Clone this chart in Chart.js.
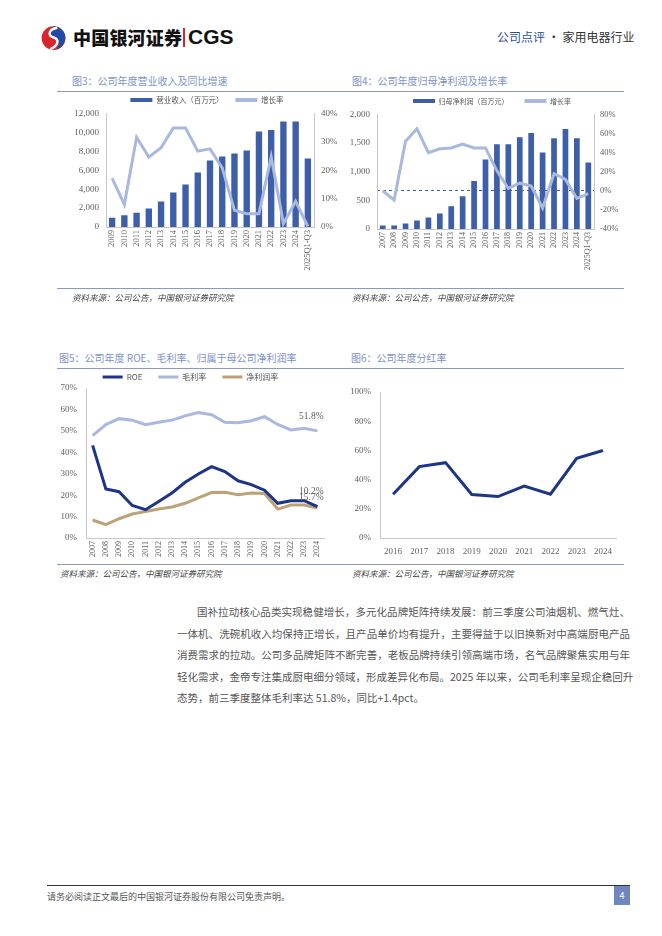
<!DOCTYPE html>
<html>
<head>
<meta charset="utf-8">
<script src="https://cdn.jsdelivr.net/npm/chart.js@4.4.1/dist/chart.umd.min.js"></script>
<style>
body { margin: 0; width: 662px; height: 936px; background: #fff; position: relative; overflow: hidden; font-family: 'Noto Sans CJK SC', sans-serif; }
.title { position: absolute; font-size: 10px; line-height: 12px; color: #7d92c6; white-space: nowrap; }
.rule { position: absolute; height: 1px; background: #8a9ab8; }
.src { position: absolute; font-size: 8.5px; line-height: 12px; color: #444; font-style: italic; white-space: nowrap; }
canvas { position: absolute; }
.body { position: absolute; left: 177px; top: 601px; width: 453px; font-size: 10.5px; line-height: 21.5px; color: #555; }
.body div { text-align: justify; text-align-last: justify; white-space: nowrap; }
.body div.last { text-align-last: left; }
</style>
</head>
<body>

<!-- header -->
<svg style="position:absolute;left:40px;top:24px" width="27" height="27" viewBox="0 0 100 100">
  <circle cx="50" cy="52" r="44" fill="#d9252b"/>
  <path d="M50 8 A44 44 0 0 1 94 52 A44 44 0 0 1 60 95 C80 70 70 50 45 48 C30 46 28 30 50 8Z" fill="#1f4aa8"/>
  <path d="M64 14 C30 20 28 44 50 50 C72 56 70 80 38 93" stroke="#fff" stroke-width="9" fill="none"/>
</svg>
<div style="position:absolute;left:73px;top:25px;font-size:18px;line-height:24px;font-weight:900;color:#111;letter-spacing:0.2px">中国银河证券</div>
<div style="position:absolute;left:183px;top:28px;width:1.5px;height:19px;background:#d9252b"></div>
<div style="position:absolute;left:188px;top:24px;font-family:'Liberation Sans',sans-serif;font-size:21px;line-height:26px;font-weight:bold;color:#111">CGS</div>
<div style="position:absolute;left:497px;top:29px;font-size:12px;line-height:16px;white-space:nowrap;color:#333"><span style="color:#2d4f9e">公司点评</span> · 家用电器行业</div>

<!-- row 1 -->
<div class="title" style="left:72px;top:75px">图3：公司年度营业收入及同比增速</div>
<div class="title" style="left:352px;top:75px">图4：公司年度归母净利润及增长率</div>
<div class="rule" style="left:57px;top:91px;width:567px"></div>
<canvas id="c3" width="290" height="198" style="left:57px;top:92px"></canvas>
<canvas id="c4" width="290" height="198" style="left:347px;top:92px"></canvas>
<div class="rule" style="left:57px;top:288px;width:567px"></div>
<div class="src" style="left:72px;top:291px">资料来源：公司公告，中国银河证券研究院</div>
<div class="src" style="left:352px;top:291px">资料来源：公司公告，中国银河证券研究院</div>

<!-- row 2 -->
<div class="title" style="left:59px;top:352px">图5：公司年度 ROE、毛利率、归属于母公司净利润率</div>
<div class="title" style="left:351px;top:352px">图6：公司年度分红率</div>
<div class="rule" style="left:57px;top:368px;width:567px"></div>
<canvas id="c5" width="290" height="195" style="left:57px;top:369px"></canvas>
<canvas id="c6" width="290" height="195" style="left:347px;top:369px"></canvas>
<div class="rule" style="left:57px;top:564px;width:567px"></div>
<div class="src" style="left:60px;top:567px">资料来源：公司公告，中国银河证券研究院</div>
<div class="src" style="left:352px;top:567px">资料来源：公司公告，中国银河证券研究院</div>

<!-- body text -->
<div class="body">
  <div style="text-indent:20px">国补拉动核心品类实现稳健增长，多元化品牌矩阵持续发展：前三季度公司油烟机、燃气灶、</div>
  <div>一体机、洗碗机收入均保持正增长，且产品单价均有提升，主要得益于以旧换新对中高端厨电产品</div>
  <div>消费需求的拉动。公司多品牌矩阵不断完善，老板品牌持续引领高端市场，名气品牌聚焦实用与年</div>
  <div>轻化需求，金帝专注集成厨电细分领域，形成差异化布局。2025 年以来，公司毛利率呈现企稳回升</div>
  <div class="last">态势，前三季度整体毛利率达 51.8%，同比+1.4pct。</div>
</div>

<!-- footer -->
<div style="position:absolute;left:47px;top:885px;width:583px;height:1px;background:#333"></div>
<div style="position:absolute;left:47px;top:890px;font-size:9px;line-height:13px;color:#555;white-space:nowrap">请务必阅读正文最后的中国银河证券股份有限公司免责声明。</div>
<div style="position:absolute;left:614px;top:886px;width:16px;height:19px;background:#6f87bd;color:#fff;font-size:9px;line-height:19px;text-align:center">4</div>

<script>
// 图3 营业收入
const yearsRev = ['2009', '2010', '2011', '2012', '2013', '2014', '2015', '2016', '2017', '2018', '2019', '2020', '2021', '2022', '2023', '2024', '2025Q1-Q3'];
const revenue = [990, 1240, 1520, 1950, 2690, 3650, 4500, 5770, 7040, 7470, 7790, 8110, 10120, 10270, 11190, 11190, 7260];
const revenueGrowth = [17.3, 7.9, 31.7, 24.7, 28, 35, 35, 26.8, 27.6, 20.9, 5.9, 4.7, 4.7, 24.8, 1.2, 9.1, 0.2];

// 图4 归母净利润
const yearsProfit = ['2007', '2008', '2009', '2010', '2011', '2012', '2013', '2014', '2015', '2016', '2017', '2018', '2019', '2020', '2021', '2022', '2023', '2024', '2025Q1-Q3'];
const netProfit = [59, 59, 95, 148, 201, 272, 396, 574, 840, 1213, 1479, 1479, 1604, 1675, 1337, 1586, 1746, 1586, 1160];
const profitGrowth = [0, -9.6, 52, 65, 40, 44, 45, 49, 45, 45, 21, 2.5, 8, 5, -18, 18, 12, -8, -3];

// 图5 ROE / 毛利率 / 净利润率
const yearsRatio = ['2007', '2008', '2009', '2010', '2011', '2012', '2013', '2014', '2015', '2016', '2017', '2018', '2019', '2020', '2021', '2022', '2023', '2024'];
const roe = [43.2, 22.9, 21.6, 15.2, 13.2, 17, 21, 26, 29.9, 33.3, 31, 26.7, 24.9, 22.3, 16.2, 17.4, 17.4, 14.6];
const grossMargin = [47.8, 52.9, 55.7, 55, 52.9, 54, 55, 57, 58.6, 57.5, 54, 53.8, 54.7, 56.6, 53, 50.4, 51.2, 50];
const netMargin = [8.4, 6.2, 9, 11.2, 12.4, 13.5, 14.5, 16.2, 18.7, 21.2, 21.3, 20.2, 21, 20.8, 13.5, 15.4, 15.4, 14];
const endLabels = ['10.2%', '51.8%', '15.7%'];   // ROE, 毛利率, 净利润率

// 图6 分红率
const yearsDiv = ['2016', '2017', '2018', '2019', '2020', '2021', '2022', '2023', '2024'];
const payoutRatio = [30, 48.9, 51.6, 29.8, 28.4, 35.6, 30, 54.6, 59.9];

const serif = "'Liberation Serif', 'DejaVu Serif', serif";
const cjk = "'Noto Sans CJK SC', sans-serif";
const barBlue = '#3d5ea8';
const lightBlue = '#a8b8de';
const navy = '#1d3588';
const tan = '#bfa178';
const axisGray = '#c8c8c8';
const tickColor = '#5f5f5f';

Chart.defaults.font.family = serif;
Chart.defaults.color = tickColor;

function legendCfg(size, pad, height, boxW, boxH, gap) {
    return {
        position: 'top',
        maxHeight: height,
        sort: (a, b) => a.datasetIndex - b.datasetIndex,
        labels: {
            font: { family: cjk, size: size },
            color: '#555',
            boxWidth: boxW,
            boxHeight: boxH,
            padding: pad,
            generateLabels: chart => {
                let items = Chart.defaults.plugins.legend.labels.generateLabels(chart);
                items.sort((a, b) => a.datasetIndex - b.datasetIndex);
                return items.map((it, i) => Object.assign(it, {
                    lineWidth: 0,
                    text: i < items.length - 1 ? it.text + gap : it.text
                }));
            }
        }
    };
}

function pct(v) { return v + '%'; }

// 图3
new Chart(document.getElementById('c3'), {
    type: 'bar',
    data: {
        labels: yearsRev,
        datasets: [{
            type: 'bar', label: '营业收入（百万元）', data: revenue,
            backgroundColor: barBlue, yAxisID: 'y', order: 1,
            barPercentage: 0.52, categoryPercentage: 1
        }, {
            type: 'line', label: '增长率', data: revenueGrowth,
            borderColor: lightBlue, backgroundColor: lightBlue, borderWidth: 3,
            pointRadius: 0, tension: 0, yAxisID: 'y1', order: 0
        }]
    },
    options: {
        responsive: false, animation: false,
        layout: { padding: { left: 10 } },
        plugins: { legend: legendCfg(7.5, 4.25, 22, 22, 4, '\u2003'), tooltip: { enabled: false } },
        scales: {
            x: {
                grid: { display: false, drawTicks: false }, border: { color: axisGray },
                ticks: { font: { size: 8.5 }, minRotation: 90, maxRotation: 90, autoSkip: false, padding: 3 },
                afterFit: s => { s.height = 63; }
            },
            y: {
                position: 'left', min: 0, max: 12000,
                grid: { display: false, drawTicks: false }, border: { color: axisGray },
                ticks: { stepSize: 2000, padding: 7, font: { size: 9 }, callback: v => v.toLocaleString('en-US') },
                afterFit: s => { s.width = 39; }
            },
            y1: {
                position: 'right', min: 0, max: 40,
                grid: { display: false, drawTicks: false }, border: { color: axisGray },
                ticks: { stepSize: 10, padding: 7, font: { size: 9 }, callback: pct },
                afterFit: s => { s.width = 33; }
            }
        }
    }
});

// 图4
new Chart(document.getElementById('c4'), {
    type: 'bar',
    data: {
        labels: yearsProfit,
        datasets: [{
            type: 'bar', label: '归母净利润（百万元）', data: netProfit,
            backgroundColor: barBlue, yAxisID: 'y', order: 1,
            barPercentage: 0.5, categoryPercentage: 1
        }, {
            type: 'line', label: '增长率', data: profitGrowth,
            borderColor: lightBlue, backgroundColor: lightBlue, borderWidth: 3,
            pointRadius: 0, tension: 0, yAxisID: 'y1', order: 0
        }]
    },
    options: {
        responsive: false, animation: false,
        plugins: { legend: legendCfg(7, 5.5, 25, 22, 4, '\u2003\u2002'), tooltip: { enabled: false } },
        scales: {
            x: {
                grid: { display: false, drawTicks: false }, border: { color: axisGray },
                ticks: { font: { size: 8 }, minRotation: 90, maxRotation: 90, autoSkip: false, padding: 3 },
                afterFit: s => { s.height = 61; }
            },
            y: {
                position: 'left', min: 0, max: 2000,
                grid: { display: false, drawTicks: false }, border: { color: axisGray },
                ticks: { stepSize: 500, padding: 7, font: { size: 9 }, callback: v => v.toLocaleString('en-US') },
                afterFit: s => { s.width = 30; }
            },
            y1: {
                position: 'right', min: -40, max: 80,
                grid: {
                    display: true, drawTicks: false, lineWidth: 1,
                    color: c => (c.tick && c.tick.value === 0) ? barBlue : 'rgba(0,0,0,0)'
                },
                border: { color: axisGray, dash: [3, 3] },
                ticks: { stepSize: 20, padding: 6, font: { size: 8.5 }, callback: pct },
                afterFit: s => { s.width = 43; }
            }
        }
    }
});

// 图5 end-of-line labels
const endLabelPlugin = {
    id: 'endLabels',
    afterDatasetsDraw(chart) {
        const ctx = chart.ctx;
        const dy = [-15, -14, -11];
        ctx.save();
        ctx.font = "9.5px " + serif;
        ctx.fillStyle = tickColor;
        ctx.textAlign = 'center';
        ctx.textBaseline = 'middle';
        endLabels.forEach((txt, i) => {
            const pts = chart.getDatasetMeta(i).data;
            const p = pts[pts.length - 1];
            ctx.fillText(txt, p.x - 6, p.y + dy[i]);
        });
        ctx.restore();
    }
};

new Chart(document.getElementById('c5'), {
    type: 'line',
    data: {
        labels: yearsRatio,
        datasets: [
            { label: 'ROE', data: roe, borderColor: navy, backgroundColor: navy, borderWidth: 3, pointRadius: 0, tension: 0 },
            { label: '毛利率', data: grossMargin, borderColor: lightBlue, backgroundColor: lightBlue, borderWidth: 3, pointRadius: 0, tension: 0 },
            { label: '净利润率', data: netMargin, borderColor: tan, backgroundColor: tan, borderWidth: 3, pointRadius: 0, tension: 0 }
        ]
    },
    options: {
        responsive: false, animation: false,
        layout: { padding: { left: 0, right: 23 } },
        plugins: { legend: legendCfg(8, 4, 19, 20, 3, '\u2003\u2002'), tooltip: { enabled: false } },
        scales: {
            x: {
                offset: true,
                grid: { display: false, drawTicks: false }, border: { color: axisGray },
                ticks: { font: { size: 8 }, minRotation: 90, maxRotation: 90, autoSkip: false, padding: 3 },
                afterFit: s => { s.height = 26; }
            },
            y: {
                min: 0, max: 70,
                grid: { display: false, drawTicks: false }, border: { color: axisGray },
                ticks: { stepSize: 10, padding: 9, font: { size: 9 }, callback: pct },
                afterFit: s => { s.width = 29; }
            }
        }
    },
    plugins: [endLabelPlugin]
});

// 图6
new Chart(document.getElementById('c6'), {
    type: 'line',
    data: {
        labels: yearsDiv,
        datasets: [{ label: '分红率', data: payoutRatio, borderColor: navy, borderWidth: 3, pointRadius: 0, tension: 0 }]
    },
    options: {
        responsive: false, animation: false,
        layout: { padding: { top: 23, right: 21 } },
        plugins: { legend: { display: false }, tooltip: { enabled: false } },
        scales: {
            x: {
                offset: true,
                grid: { display: false, drawTicks: false }, border: { color: axisGray },
                ticks: { font: { size: 9 }, maxRotation: 0, autoSkip: false, padding: 8 },
                afterFit: s => { s.height = 26; }
            },
            y: {
                min: 0, max: 100,
                grid: { display: false, drawTicks: false }, border: { color: axisGray },
                ticks: { stepSize: 20, padding: 9, font: { size: 9 }, callback: pct },
                afterFit: s => { s.width = 33; }
            }
        }
    }
});
</script>
</body>
</html>
